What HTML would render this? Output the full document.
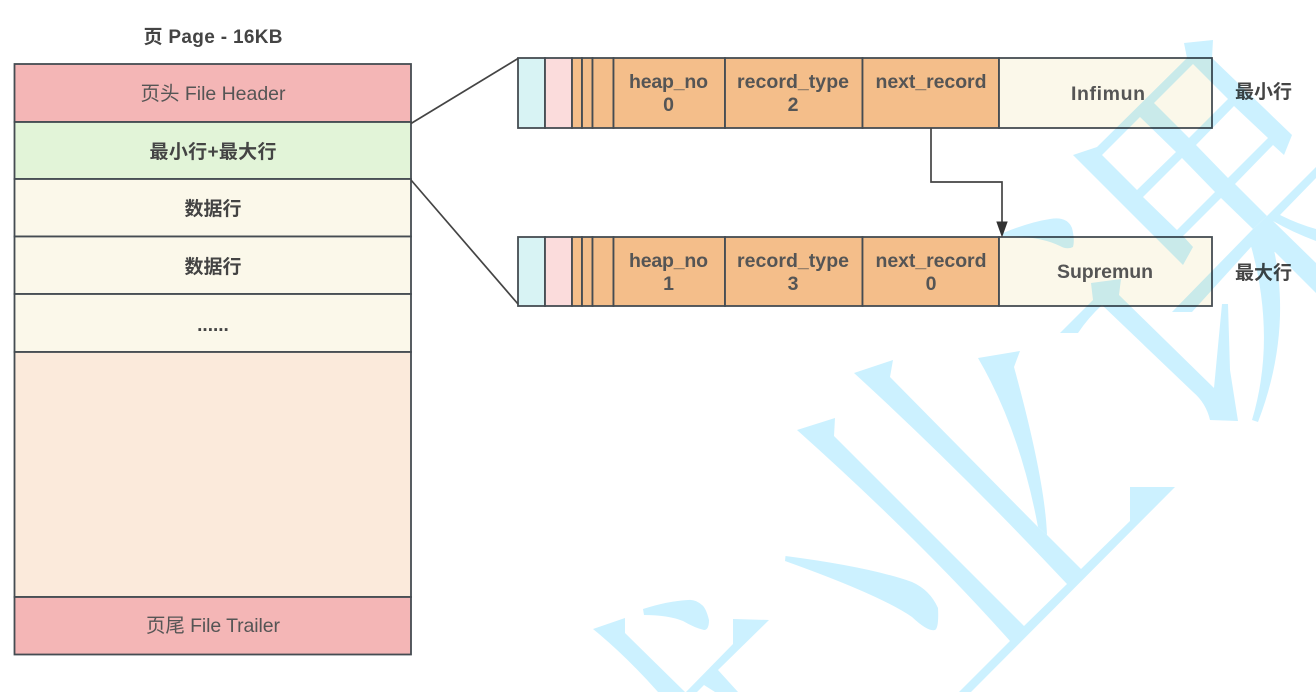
<!DOCTYPE html>
<html><head><meta charset="utf-8">
<style>
html,body{margin:0;padding:0;background:#fff;width:1316px;height:692px;overflow:hidden}
svg{display:block}
text{font-family:"Liberation Sans","Noto Sans CJK SC",sans-serif;text-anchor:middle;fill:#555}
.b{font-weight:bold;font-size:19.5px}
.c{font-weight:bold;font-size:19px;fill:#444}
.r{font-size:19.5px;fill:#555}
.s{stroke:#454c52;stroke-width:1.8}
</style></head><body>
<svg width="1316" height="692" viewBox="0 0 1316 692" xmlns="http://www.w3.org/2000/svg">
<!-- left column -->
<g class="s">
<rect x="14.5" y="64" width="396.5" height="58" fill="#f4b6b6"/>
<rect x="14.5" y="122" width="396.5" height="57" fill="#e2f4d8"/>
<rect x="14.5" y="179" width="396.5" height="57.5" fill="#fbf8ea"/>
<rect x="14.5" y="236.5" width="396.5" height="57.5" fill="#fbf8ea"/>
<rect x="14.5" y="294" width="396.5" height="58" fill="#fbf8ea"/>
<rect x="14.5" y="352" width="396.5" height="245" fill="#fbeadb"/>
<rect x="14.5" y="597" width="396.5" height="57.5" fill="#f4b6b6"/>
</g>
<!-- record rows -->
<g class="s">
<rect x="518" y="58" width="27" height="70" fill="#d8f3f4"/>
<rect x="545" y="58" width="27" height="70" fill="#fbdcdc"/>
<rect x="572" y="58" width="10" height="70" fill="#f4be8a"/>
<rect x="582" y="58" width="10.5" height="70" fill="#f4be8a"/>
<rect x="592.5" y="58" width="21" height="70" fill="#f4be8a"/>
<rect x="613.5" y="58" width="111.5" height="70" fill="#f4be8a"/>
<rect x="725" y="58" width="137.5" height="70" fill="#f4be8a"/>
<rect x="862.5" y="58" width="136.5" height="70" fill="#f4be8a"/>
<rect x="999" y="58" width="213" height="70" fill="#fbf8ea"/>
<rect x="518" y="237" width="27" height="69" fill="#d8f3f4"/>
<rect x="545" y="237" width="27" height="69" fill="#fbdcdc"/>
<rect x="572" y="237" width="10" height="69" fill="#f4be8a"/>
<rect x="582" y="237" width="10.5" height="69" fill="#f4be8a"/>
<rect x="592.5" y="237" width="21" height="69" fill="#f4be8a"/>
<rect x="613.5" y="237" width="111.5" height="69" fill="#f4be8a"/>
<rect x="725" y="237" width="137.5" height="69" fill="#f4be8a"/>
<rect x="862.5" y="237" width="136.5" height="69" fill="#f4be8a"/>
<rect x="999" y="237" width="213" height="69" fill="#fbf8ea"/>
</g>
<!-- connectors -->
<g fill="none" stroke="#444" stroke-width="1.7">
<path d="M411 123.5 L518 58.5"/>
<path d="M411 180 L518 304"/>
<path d="M931 128 V182 H1002 V224"/>
</g>
<path d="M997 222 H1007 L1002 236 Z" fill="#333" stroke="#333" stroke-width="1"/>
<!-- labels -->
<text x="213" y="43" class="c" textLength="139">页 Page - 16KB</text>
<text x="213" y="100" class="r" textLength="145">页头 File Header</text>
<text x="213" y="158" class="c" textLength="127">最小行+最大行</text>
<text x="213" y="215" class="c">数据行</text>
<text x="213" y="273" class="c">数据行</text>
<text x="213" y="331" class="c">......</text>
<text x="213" y="632" class="r" textLength="134">页尾 File Trailer</text>
<text x="668.5" y="88" class="b" textLength="79">heap_no</text>
<text x="668.5" y="111" class="b">0</text>
<text x="793" y="88" class="b" textLength="112">record_type</text>
<text x="793" y="111" class="b">2</text>
<text x="931" y="88" class="b" textLength="111">next_record</text>
<text x="1108" y="100" class="b" textLength="74">Infimun</text>
<text x="668.5" y="267" class="b" textLength="79">heap_no</text>
<text x="668.5" y="290" class="b">1</text>
<text x="793" y="267" class="b" textLength="112">record_type</text>
<text x="793" y="290" class="b">3</text>
<text x="931" y="267" class="b" textLength="111">next_record</text>
<text x="931" y="290" class="b">0</text>
<text x="1105" y="278" class="b" textLength="96">Supremun</text>
<text x="1263.5" y="98" class="c">最小行</text>
<text x="1263.5" y="279" class="c">最大行</text>
<!-- watermark -->
<g fill="#ccf1ff" style="mix-blend-mode:multiply">
<path fill-rule="evenodd" d="M1184 43 L1213 40 L1212 58 L1292 135 L1284 155 L1273 145 L1235 184 L1267 216 L1253 229 L1221 198 L1183 236 L1193 247 L1183 265 L1073 155 L1097 147 L1187 58 Z
M1193 64 L1228 99 L1189 138 L1154 103 Z
M1234 106 L1268 138 L1228 178 L1196 145 Z
M1140 117 L1176 152 L1137 190 L1102 155 Z
M1182 158 L1215 192 L1177 230 L1143 197 Z"/>
<path d="M1267 216 L1316 167 V178 L1280 215 Q1298 224 1316 229 V241 Q1292 232 1273 221 L1316 263 V293 L1275 252 L1251 247 L1192 312 L1172 312 L1253 229 Z"/>
<path d="M1251 246 C1266 300 1270 360 1252 420 L1258 422 C1282 360 1285 300 1274 250 Z"/>
<path d="M1091 283 L1121 279 L1119 295 L1214 388 L1222 304 L1228 304 L1230 370 L1238 421 L1210 420 Q1206 403 1193 392 L1102 305 Q1088 318 1078 333 L1060 333 L1093 300 Z"/>
<path d="M1003 233 Q1030 222 1050 219 Q1067 216 1072 228 Q1075 240 1073 247 Q1067 250 1060 246 Q1040 236 1003 236 Z"/>
<path d="M854 373 L893 360 L890 377 L1038 527 L1047 535 L1081 569 L1130 521 L1130 487 L1175 487 L971 692 L959 692 L1010 641 Q920 540 797 430 L835 418 L834 436 L1024 626 L1067 584 Q960 470 854 373 Z"/>
<path d="M978 358 L1020 351 L1014 367 Q1045 480 1047 535 L1038 527 Q1020 430 978 358 Z"/>
<path d="M785.5 556 L785 561 Q880 595 912 617 Q928 632 935 630 Q939 628 938 608 Q930 590 912 582 Q870 567 785.5 556 Z"/>
<path d="M643 609 L644 615 Q668 615 683 621 Q695 628 704 630 Q709 630 709 620 Q706 608 702 605 Q695 599 688 600 Q668 601 643 609 Z"/>
<path d="M593 629 L625 618 L625 633 L685 692 L658 692 Q625 655 593 629 Z"/>
<path d="M733 619 L769 620 L718 670 L738 692 L715 692 L704 685 L697 692 L686 692 L733 644 Z"/>
</g>
</svg>
</body></html>
